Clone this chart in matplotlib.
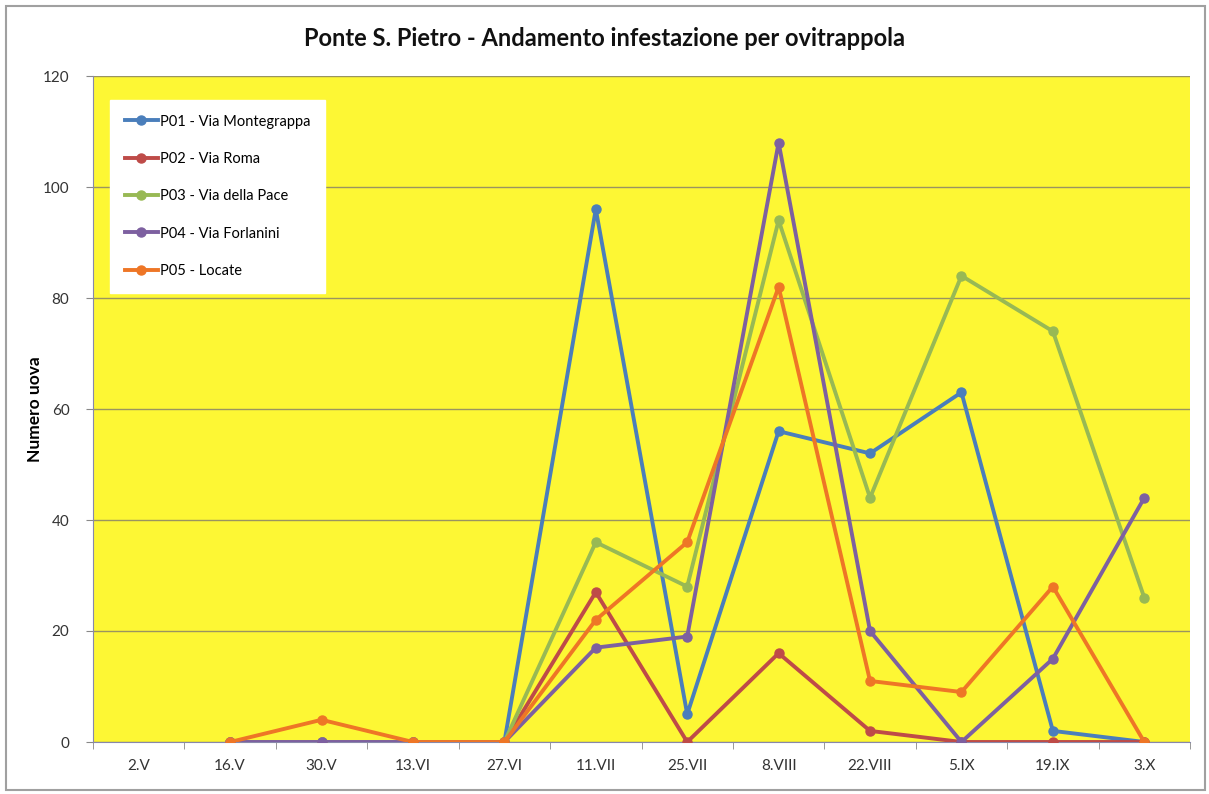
import matplotlib
matplotlib.use("Agg")
import matplotlib.pyplot as plt
import numpy as np
from matplotlib.patches import Rectangle

plt.rcParams['font.family'] = ['Lato', 'DejaVu Sans']

categories = ["2.V", "16.V", "30.V", "13.VI", "27.VI", "11.VII", "25.VII",
              "8.VIII", "22.VIII", "5.IX", "19.IX", "3.X"]
nan = np.nan
p01 = [nan, 0, 0, 0, 0, 96, 5, 56, 52, 63, 2, 0]
p02 = [nan, 0, 0, 0, 0, 27, 0, 16, 2, 0, 0, 0]
p03 = [nan, 0, 0, 0, 0, 36, 28, 94, 44, 84, 74, 26]
p04 = [nan, 0, 0, 0, 0, 17, 19, 108, 20, 0, 15, 44]
p05 = [nan, 0, 4, 0, 0, 22, 36, 82, 11, 9, 28, 0]
series_names = ["P01 - Via Montegrappa", "P02 - Via Roma", "P03 - Via della Pace",
                "P04 - Via Forlanini", "P05 - Locate"]
series_values = [p01, p02, p03, p04, p05]
colors = ["#4A7EBB", "#BE4B48", "#98B954", "#7D60A0", "#EE7626"]

fig = plt.figure(figsize=(12.09, 7.94), dpi=100)
ax = fig.add_axes([93/1209, 52/794, 1097/1209, 666/794])
ax.set_facecolor("#FDF734")

x = np.arange(len(categories))
for name, vals, c in zip(series_names, series_values, colors):
    ax.plot(x, vals, color=c, lw=2.8, marker='o', ms=6.5, label=name,
            solid_joinstyle='round', zorder=3)

ax.set_xlim(-0.5, len(categories) - 0.5)
ax.set_ylim(0, 120)
ax.set_yticks(np.arange(0, 121, 20))
ax.set_xticks(x)
ax.set_xticklabels(categories)
ax.set_xticks(np.arange(-0.5, len(categories), 1), minor=True)
ax.tick_params(axis='x', which='major', length=0, pad=12, labelsize=11, colors='#333333')
ax.tick_params(axis='x', which='minor', length=5, color='#888888', direction='out')
ax.tick_params(axis='y', length=5, color='#888888', labelsize=11, pad=12, labelcolor='#333333')
ax.grid(axis='y', color='#9A9460', lw=1.0, zorder=1)
for s in ['top', 'right']:
    ax.spines[s].set_visible(False)
ax.spines['left'].set_color('#8888AA')
ax.spines['bottom'].set_color('#8888AA')

ax.set_ylabel("Numero uova", fontsize=12.5, fontweight='bold')
ax.yaxis.set_label_coords(-50/1097, 0.5)
fig.text(0.5, 1 - 38/794, "Ponte S. Pietro - Andamento infestazione per ovitrappola",
         ha='center', va='center', fontsize=17, fontweight='bold', color='#111111')

leg = ax.legend(loc='upper left', bbox_to_anchor=(17/1097, 1 - 24/666),
                frameon=True, fancybox=False, framealpha=1, facecolor='white',
                edgecolor='white', fontsize=10.5, labelspacing=1.6,
                handlelength=2.3, handletextpad=0.15, borderpad=1.0,
                borderaxespad=0)
leg.set_zorder(5)

fig.patches.append(Rectangle((6/1209, 4/794), 1199/1209, 784/794, transform=fig.transFigure,
                             fill=False, edgecolor='#A0A0A0', lw=1.5))

fig.savefig("out.png", dpi=100, facecolor='white')
